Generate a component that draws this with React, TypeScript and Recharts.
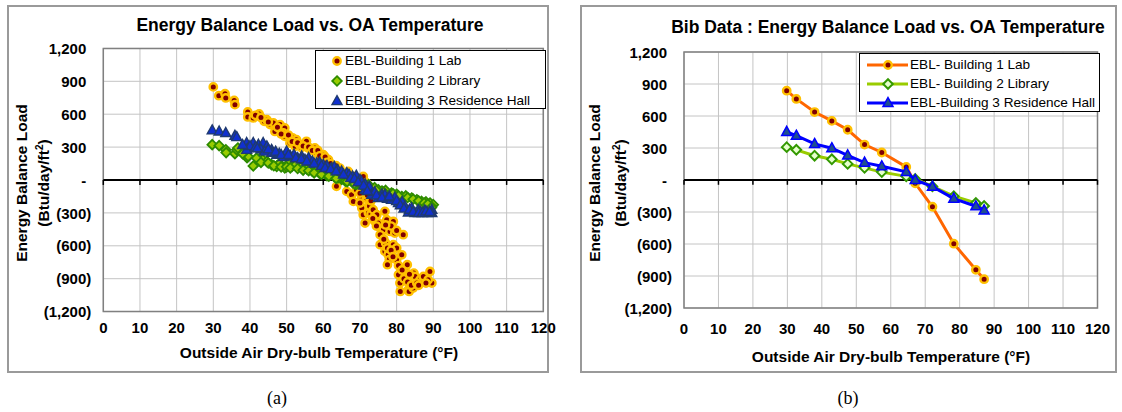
import React from 'react';
import { ScatterChart, Scatter, XAxis, YAxis, CartesianGrid, ReferenceLine, ReferenceArea } from 'recharts';

const FONT = '"Liberation Sans", Arial, Helvetica, sans-serif';

// ---------- axis ticks ----------
const xTicks = [0, 10, 20, 30, 40, 50, 60, 70, 80, 90, 100, 110, 120];
const yTicks = [-1200, -900, -600, -300, 0, 300, 600, 900, 1200];

// ---------- series names ----------
const leftNames = ['EBL-Building 1 Lab', 'EBL-Building 2 Library', 'EBL-Building 3 Residence Hall'];
const rightNames = ['EBL- Building 1 Lab', 'EBL- Building 2 Library', 'EBL-Building 3 Residence Hall'];

// ---------- (a) measured scatter data: temperature (°F) / load ----------
const labTemp = [30, 31.5, 33.2, 33.4, 35.7, 35.9, 39.4, 39.4, 40.9, 42.5, 43.9, 44.6, 45.5, 46.4, 46.8, 48.2, 48.6, 49.5, 49.5, 49.1,
  50.9, 51.6, 52.7, 52.3, 53.6, 54, 55.4, 55.9, 56.5, 57.7, 58.2, 60.0, 59.6, 61.4, 62.3, 62.8, 63.2, 63.6, 64.5, 65.2, 66.8, 68.2, 69.1,
  70.9, 71.8, 71.4, 66.4, 67.7, 68.2, 70.5, 70.5, 70.9, 71.4, 72.3, 70, 71.8, 72.7, 72.6, 73, 73.6, 74, 74.6, 75.0, 76, 76.8, 77.3, 76.4,
  78.2, 79.5, 79.1, 81.8, 75.5, 76.8, 77.7, 77, 77.5, 78, 77.5, 79.1, 80, 80.0, 81.4, 82.3, 82.9, 80.5, 82.7, 80.9, 81, 83.2, 83.4, 84.5,
  84.7, 85.0, 86.4, 87.3, 89.1, 89.6, 88.6,
  41.5, 43, 45, 47.5, 48.5, 50.5, 51.5, 53, 54.5, 56, 57, 58.5, 59, 60.5, 61, 62, 63.5, 64, 65.5, 66, 67, 68.5, 69.5, 69, 70,
  73.5, 74.5, 75.5, 76.5, 78.5, 79, 80.5, 81.5, 82, 83, 84, 85.5, 86, 88, 83.5, 78.5, 80, 77, 72, 73];
const labLoad = [849, 769, 787, 748, 726, 687, 620, 575, 566, 602, 535, 550, 505, 520, 443, 505, 459, 474, 398, 429,
  337, 385, 368, 307, 322, 296, 353, 292, 284, 292, 246, 231, 185, 185, 124, 113, 94, -58, 109, 40, 78, 33, -13,
  33, -27, -58, -104, -134, -195, -164, -256, -317, -392, -301, -210, -164, -210, -238, -311, -271, -375, -317, -392, -467, -286, -362, -453,
  -469, -484, -378, -499, -590, -651, -682, -574, -620, -726, -772, -590, -620, -727, -682, -803, -772, -864, -880, -940, -1016, -1001, -1016, -985,
  -849, -880, -910, -880, -834, -940, -910,
  590, 570, 530, 480, 420, 410, 350, 340, 310, 300, 270, 270, 220, 210, 160, 150, 130, 70, 60, 20, 50, 0, -40, -90, -120,
  -350, -420, -500, -540, -640, -700, -780, -820, -900, -930, -960, -940, -960, -940, -860, -420, -460, -410, -140, -190];

const libTemp = [29.7, 31.6, 33.4, 33.5, 35.9, 36.4, 36.7, 39.2, 39.5, 40.9, 42.7, 43.5, 44.6, 45.9, 47.3, 48, 49.5, 50.5, 51.5, 52.5,
  54, 55.5, 57, 58, 59, 60, 61, 62, 63, 64, 65, 66, 67, 68, 69, 70, 71, 72.3, 73, 74, 75, 76, 77, 78.6, 80, 81.4, 82.5, 84.1, 85.5,
  86.8, 88, 89.1, 90, 89.5, 87,
  38, 41.8, 43, 45, 46.5, 48.5, 50, 51, 53, 54.5, 56, 57.5, 59.5, 61.5, 63.5, 66.5, 68.5, 70.5, 72, 74.5, 76.5, 79, 80.5, 83, 84.5,
  86, 87.5, 88.5, 89.5];
const libLoad = [322, 313, 276, 250, 240, 275, 292, 204, 215, 128, 201, 185, 170, 140, 124, 150, 109, 150, 125, 140,
  120, 100, 80, 95, 60, 70, 40, 55, 30, 20, 5, -10, 10, -25, -40, -30, -60, -43, -75, -70, -89, -100, -95, -119, -130, -150, -145, -164, -180,
  -195, -200, -210, -225, -240, -230,
  240, 200, 160, 155, 130, 120, 120, 110, 105, 90, 85, 65, 50, 35, 15, -15, -35, -50, -70, -95, -110, -125, -145, -160, -175,
  -190, -210, -220, -250];

const resTemp = [29.7, 31.6, 33.4, 35.9, 36.4, 39.1, 39.5, 40.9, 42.3, 43.6, 44.6, 45.9, 47.3, 49.1, 39.1, 40, 41.5, 43, 44, 46, 48,
  50, 51, 52, 53, 54.1, 55, 56, 57, 58.2, 59, 60, 61, 62.3, 63, 64, 65, 66.4, 67, 68, 69, 70, 70.4, 71.4, 71.4, 72.5, 73.2, 74, 75, 76,
  76.8, 77.5, 78.6, 79.5, 80.5, 81.5, 82.3, 83.2, 84.1, 85, 85.9, 86.5, 87.7, 88.5, 89.6, 89.6,
  38, 42, 45, 47, 48.5, 50.5, 52.5, 54, 55.5, 57.5, 59.5, 60.5, 62, 63.5, 65.5, 67.5, 68.5, 69.5, 71, 72, 74.5, 76, 78, 80, 81,
  82, 83.5, 84.5, 86, 87, 88, 89];
const resLoad = [453, 443, 429, 404, 392, 338, 292, 338, 322, 338, 307, 276, 231, 210, 276, 310, 300, 280, 260, 250, 240,
  261, 220, 231, 200, 216, 185, 201, 170, 155, 160, 140, 130, 109, 120, 90, 78, 63, 48, 33, 40, 2, -13, -37, -89, -60, -134, -110, -164, -130,
  -134, -170, -180, -160, -210, -200, -241, -295, -256, -301, -271, -290, -277, -300, -271, -301,
  320, 290, 280, 260, 230, 230, 200, 190, 170, 150, 130, 110, 100, 80, 50, 20, 10, -20, -50, -100, -140, -160, -150, -190, -230,
  -260, -270, -290, -300, -300, -285, -290];

// ---------- (b) bin data ----------
const binTemp = [29.8, 32.6, 37.9, 42.9, 47.5, 52.4, 57.4, 64.5, 67.1, 72.1, 78.3, 84.7, 87.1];
const binLab = [837, 760, 637, 554, 471, 332, 258, 123, -31, -251, -597, -842, -930];
const binLib = [308, 283, 228, 194, 151, 114, 74, 34, 10, -60, -152, -215, -243];
const binRes = [452, 415, 338, 298, 231, 163, 129, 77, 0, -63, -174, -246, -284];

const zip = (xs: number[], ys: number[]) => xs.map((x, i) => ({ x, y: ys[i] }));

const fmtY = (v: number) => {
  if (v === 0) return '-';
  const s = Math.abs(v).toLocaleString('en-US');
  return v < 0 ? `(${s})` : s;
};

// ---------- markers ----------
const LabDot = (p: any) => <circle cx={p.cx} cy={p.cy} r={3.7} fill="#800000" stroke="#FFC000" strokeWidth={2.4} />;
const LibDiamond = (p: any) => (
  <polygon points={`${p.cx},${p.cy - 4.8} ${p.cx + 4.8},${p.cy} ${p.cx},${p.cy + 4.8} ${p.cx - 4.8},${p.cy}`} fill="#99CC00" stroke="#2E8B00" strokeWidth={1.8} />
);
const ResTri = (p: any) => (
  <polygon points={`${p.cx},${p.cy - 5.4} ${p.cx + 5},${p.cy + 3.6} ${p.cx - 5},${p.cy + 3.6}`} fill="#1030D0" stroke="#1F3A70" strokeWidth={1.4} />
);
const BinLibDiamond = (p: any) => (
  <polygon points={`${p.cx},${p.cy - 4.8} ${p.cx + 4.8},${p.cy} ${p.cx},${p.cy + 4.8} ${p.cx - 4.8},${p.cy}`} fill="#E6FFCC" stroke="#339900" strokeWidth={2} />
);
const BinResTri = (p: any) => (
  <polygon points={`${p.cx},${p.cy - 5.5} ${p.cx + 5},${p.cy + 3.6} ${p.cx - 5},${p.cy + 3.6}`} fill="#1F4F8F" stroke="#0000FF" strokeWidth={1.5} />
);

const makeYTick = (plotLeft: number) => (props: any) => {
  const v = props.payload.value;
  const neg = v < 0;
  return (
    <text x={neg ? plotLeft - 12 : plotLeft - 17} y={props.y + 5.6} textAnchor="end" fontFamily={FONT} fontWeight="bold" fontSize={15} fill="#000">
      {fmtY(v)}
    </text>
  );
};
const makeXTick = (baseline: number) => (props: any) => (
  <text x={props.x} y={baseline} textAnchor="middle" fontFamily={FONT} fontWeight="bold" fontSize={15} fill="#000">
    {props.payload.value}
  </text>
);

const commonAxes = (plotLeft: number, xBase: number) => [
  <CartesianGrid key="g" stroke="#C4C4C4" strokeWidth={1} />,
  <XAxis key="x" type="number" dataKey="x" domain={[0, 120]} ticks={xTicks} interval={0} height={40} axisLine={false} tickLine={false} tick={makeXTick(xBase)} allowDataOverflow />,
  <YAxis key="y" type="number" dataKey="y" domain={[-1200, 1200]} ticks={yTicks} interval={0} width={60} axisLine={false} tickLine={false} tick={makeYTick(plotLeft)} allowDataOverflow />,
  <ReferenceArea key="ra" x1={0} x2={120} y1={-1200} y2={1200} fill="none" stroke="#808080" strokeWidth={1.5} />,
  <ReferenceLine key="zero" y={0} stroke="#000" strokeWidth={2} />,
  ...xTicks.map((t) => (
    <ReferenceLine key={'tk' + t} segment={[{ x: t, y: 0 }, { x: t, y: -45 }]} stroke="#000" strokeWidth={1.5} />
  )),
];

const textStyle = (extra: React.CSSProperties): React.CSSProperties => ({
  position: 'absolute',
  fontFamily: FONT,
  fontWeight: 'bold',
  whiteSpace: 'nowrap',
  color: '#000',
  ...extra,
});

const YTitle = ({ cx, cy, children }: { cx: number; cy: number; children: React.ReactNode }) => (
  <div style={textStyle({ left: cx, top: cy, fontSize: 15.5, lineHeight: '18px', transform: 'translate(-50%, -50%) rotate(-90deg)' })}>{children}</div>
);

const LegendRow = ({ marker, label, top, textLeft }: { marker: React.ReactNode; label: string; top: number; textLeft: number }) => (
  <div style={{ position: 'absolute', left: 0, top: top - 10, height: 20, width: '100%' }}>
    <svg width={textLeft} height={20} style={{ position: 'absolute', left: 0, top: 0 }}>{marker}</svg>
    <div style={{ position: 'absolute', left: textLeft, top: 0, lineHeight: '20px', fontFamily: FONT, fontSize: 13.6, whiteSpace: 'nowrap' }}>{label}</div>
  </div>
);

export default function App() {
  const labA = zip(labTemp, labLoad);
  const libA = zip(libTemp, libLoad);
  const resA = zip(resTemp, resLoad);
  const labB = zip(binTemp, binLab);
  const libB = zip(binTemp, binLib);
  const resB = zip(binTemp, binRes);

  return (
    <div style={{ position: 'absolute', left: 0, top: 0, width: 1122, height: 412, background: '#fff', overflow: 'hidden' }}>
      <style>{`.recharts-surface{overflow:visible}`}</style>
      {/* ---------- panel (a) ---------- */}
      <div style={{ position: 'absolute', left: 7, top: 5, width: 542, height: 368, border: '2px solid #9a9a9a', boxSizing: 'border-box' }} />
      <div style={{ position: 'absolute', left: 7, top: 5 }}>
        <ScatterChart width={542} height={368} margin={{ top: 43.4, right: 5.7, bottom: 21.4, left: 36.3 }}>
          {commonAxes(96.3, 328.3)}
          <Scatter name={leftNames[0]} data={labA} shape={LabDot} isAnimationActive={false} />
          <Scatter name={leftNames[1]} data={libA} shape={LibDiamond} isAnimationActive={false} />
          <Scatter name={leftNames[2]} data={resA} shape={ResTri} isAnimationActive={false} />
        </ScatterChart>
      </div>
      <div style={textStyle({ left: 10, width: 600, top: 15, fontSize: 17.5, lineHeight: '20px', textAlign: 'center' })}>Energy Balance Load vs. OA Temperature</div>
      <div style={textStyle({ left: 19, width: 600, top: 344, fontSize: 15.5, lineHeight: '18px', textAlign: 'center' })}>Outside Air Dry-bulb Temperature (°F)</div>
      <YTitle cx={21.5} cy={183}>Energy Balance Load</YTitle>
      <YTitle cx={44} cy={183}>(Btu/day/ft<sup style={{ fontSize: 10, lineHeight: 0 }}>2</sup>)</YTitle>
      <div style={{ position: 'absolute', left: 315, top: 50, width: 231, height: 59, border: '1px solid #000', boxSizing: 'border-box', background: '#fff' }}>
        <LegendRow top={10} textLeft={29} label={leftNames[0]} marker={<LabDot cx={21} cy={10} />} />
        <LegendRow top={30} textLeft={29} label={leftNames[1]} marker={<LibDiamond cx={21} cy={10} />} />
        <LegendRow top={50} textLeft={29} label={leftNames[2]} marker={<ResTri cx={21} cy={10} />} />
      </div>

      {/* ---------- panel (b) ---------- */}
      <div style={{ position: 'absolute', left: 580, top: 5, width: 537, height: 368, border: '2px solid #9a9a9a', boxSizing: 'border-box' }} />
      <div style={{ position: 'absolute', left: 580, top: 5 }}>
        <ScatterChart width={537} height={368} margin={{ top: 47, right: 19.5, bottom: 25, left: 44 }}>
          {commonAxes(104, 328.5)}
          <Scatter name={rightNames[0]} data={labB} shape={LabDot} line={{ stroke: '#FF6600', strokeWidth: 3 }} lineType="joint" isAnimationActive={false} />
          <Scatter name={rightNames[1]} data={libB} shape={BinLibDiamond} line={{ stroke: '#99CC00', strokeWidth: 3 }} lineType="joint" isAnimationActive={false} />
          <Scatter name={rightNames[2]} data={resB} shape={BinResTri} line={{ stroke: '#0000FF', strokeWidth: 3 }} lineType="joint" isAnimationActive={false} />
        </ScatterChart>
      </div>
      <div style={textStyle({ left: 588, width: 600, top: 17, fontSize: 17.5, lineHeight: '20px', textAlign: 'center' })}>Bib Data : Energy Balance Load vs. OA Temperature</div>
      <div style={textStyle({ left: 591, width: 600, top: 348, fontSize: 15.5, lineHeight: '18px', textAlign: 'center' })}>Outside Air Dry-bulb Temperature (°F)</div>
      <YTitle cx={595} cy={183}>Energy Balance Load</YTitle>
      <YTitle cx={621} cy={183}>(Btu/day/ft<sup style={{ fontSize: 10, lineHeight: 0 }}>2</sup>)</YTitle>
      <div style={{ position: 'absolute', left: 859, top: 53, width: 241, height: 59, border: '1px solid #000', boxSizing: 'border-box', background: '#fff' }}>
        <LegendRow top={11} textLeft={50} label={rightNames[0]} marker={<g><line x1={7} y1={10} x2={48} y2={10} stroke="#FF6600" strokeWidth={3} /><LabDot cx={28} cy={10} /></g>} />
        <LegendRow top={30} textLeft={50} label={rightNames[1]} marker={<g><line x1={7} y1={10} x2={48} y2={10} stroke="#99CC00" strokeWidth={3} /><BinLibDiamond cx={28} cy={10} /></g>} />
        <LegendRow top={49} textLeft={50} label={rightNames[2]} marker={<g><line x1={7} y1={10} x2={48} y2={10} stroke="#0000FF" strokeWidth={3} /><BinResTri cx={28} cy={10} /></g>} />
      </div>

      {/* ---------- captions ---------- */}
      <div style={{ position: 'absolute', left: 177, width: 200, top: 387, textAlign: 'center', fontFamily: '"Liberation Serif", "Times New Roman", serif', fontSize: 18, lineHeight: '22px' }}>(a)</div>
      <div style={{ position: 'absolute', left: 748, width: 200, top: 387, textAlign: 'center', fontFamily: '"Liberation Serif", "Times New Roman", serif', fontSize: 18, lineHeight: '22px' }}>(b)</div>
    </div>
  );
}
